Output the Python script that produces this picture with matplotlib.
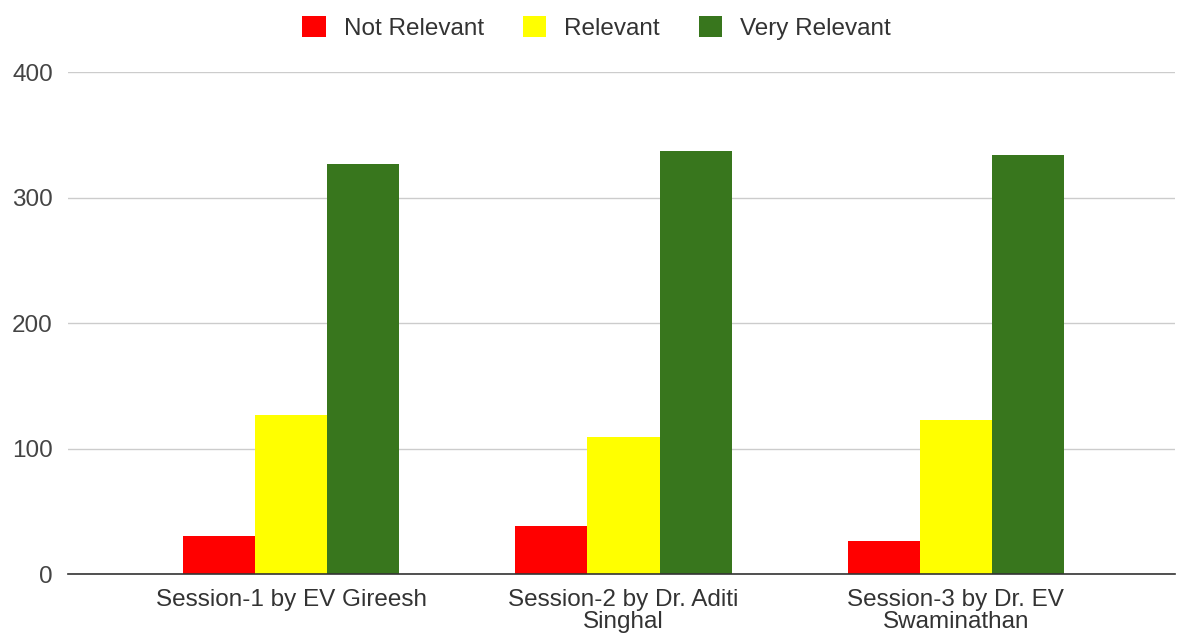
import matplotlib

matplotlib.use("Agg")
import matplotlib.pyplot as plt
import numpy as np
from matplotlib.patches import Patch

# data
sessions = [
    "Session-1 by EV Gireesh",
    "Session-2 by Dr. Aditi\nSinghal",
    "Session-3 by Dr. EV\nSwaminathan",
]
series_names = ["Not Relevant", "Relevant", "Very Relevant"]
not_relevant = [30, 38, 26]
relevant = [127, 109, 123]
very_relevant = [327, 337, 334]
colors = ["#ff0000", "#ffff00", "#38761d"]
yticks = [0, 100, 200, 300, 400]

plt.rcParams["font.family"] = ["Liberation Sans", "DejaVu Sans"]
FS = 17.5

fig = plt.figure(figsize=(11.79, 6.38), dpi=100)
ax = fig.add_axes([0.0577, 0.1003, 0.9389, 0.7867])

x = np.arange(len(sessions))
w = 0.217
for i, (vals, col) in enumerate(zip([not_relevant, relevant, very_relevant], colors)):
    ax.bar(x + (i - 1) * w, vals, width=w, color=col, zorder=3)

ax.set_ylim(0, 400)
ax.set_xlim(-0.672, 2.66)
ax.set_yticks(yticks)
ax.set_xticks(x)
ax.set_xticklabels(sessions, fontsize=FS, color="#333333", linespacing=1.0)
ax.tick_params(axis="y", labelsize=FS, labelcolor="#444444", length=0, pad=11)
ax.tick_params(axis="x", length=0, pad=11)
ax.grid(axis="y", color="#cccccc", lw=1, zorder=0)
for s in ["top", "right", "left"]:
    ax.spines[s].set_visible(False)
ax.spines["bottom"].set_color("#333333")
ax.spines["bottom"].set_linewidth(1.2)
ax.spines["bottom"].set_zorder(4)

handles = [Patch(facecolor=c, label=n) for c, n in zip(colors, series_names)]
fig.legend(
    handles=handles, loc="upper center", bbox_to_anchor=(0.506, 1.009), ncol=3,
    frameon=False, fontsize=FS, handlelength=0.95, handleheight=0.95,
    handletextpad=0.75, columnspacing=1.6, labelcolor="#333333",
)

fig.savefig("out.png", dpi=100)
